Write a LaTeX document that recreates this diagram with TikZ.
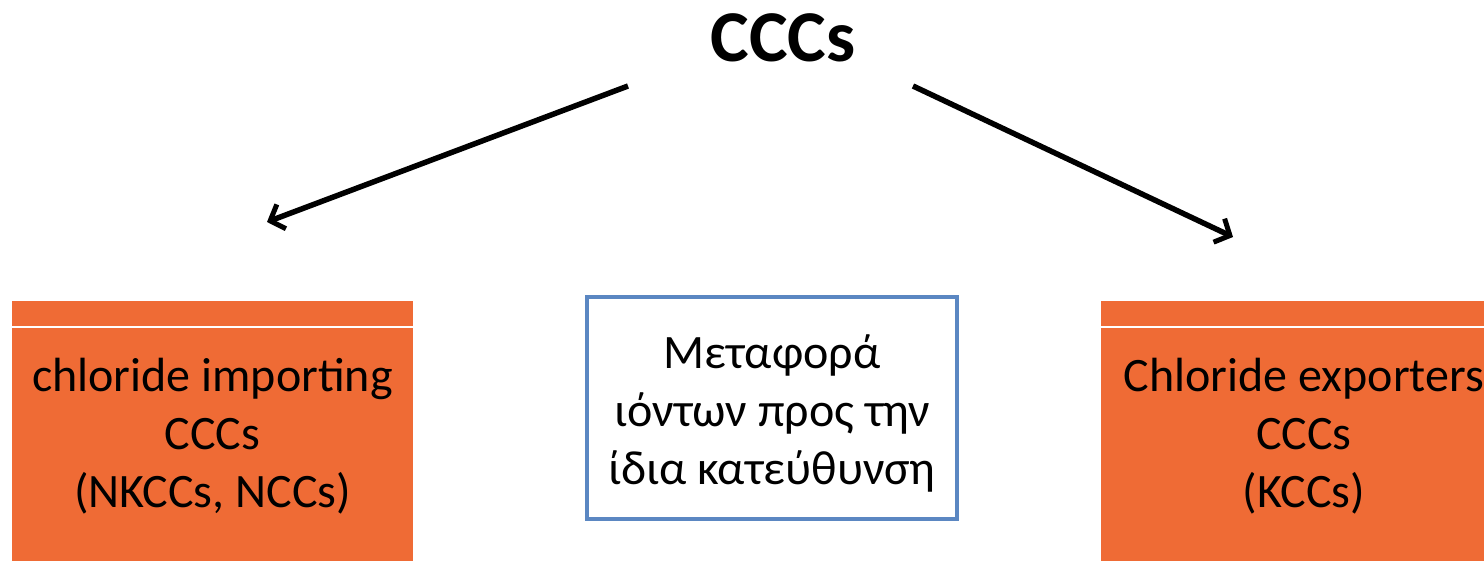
\documentclass[tikz,border=0pt]{standalone}
\usepackage{fontspec}
\setmainfont{Carlito}
\usetikzlibrary{arrows.meta}
\definecolor{orangebox}{HTML}{EF6B35}
\definecolor{bluebox}{HTML}{5B87C2}
\tikzset{
  obox/.style={fill=orangebox, draw=none, inner sep=0pt},
  txt/.style={font=\fontsize{48}{58}\selectfont, align=center, text=black},
  conn/.style={line width=5.5pt, -{Straight Barb[length=12pt,width=26pt,line width=5pt]}},
}
\begin{document}
\begin{tikzpicture}[x=1pt,y=-1pt]
\useasboundingbox (0,0) rectangle (1484,561);
\clip (0,0) rectangle (1484,561);
% title
\node[font=\fontsize{73}{80}\selectfont\bfseries] (title) at (783,38) {CCCs};
% left box
\fill[orangebox] (12,301) rectangle (413,561);
\draw[white, line width=1.5pt] (12,327) -- (413,327);
\node[txt] (left) at (212.5,436) {chloride importing\\CCCs\\(NKCCs, NCCs)};
% right box
\fill[orangebox] (1101,301) rectangle (1510,561);
\draw[white, line width=1.5pt] (1101,327) -- (1510,327);
\node[txt] (right) at (1304,436) {Chloride exporters\\CCCs\\(KCCs)};
% middle box
\node[draw=bluebox, line width=4pt, minimum width=370pt, minimum height=222pt, inner sep=0pt] (mid) at (772,408) {};
\node[txt] (midtext) at (772,413) {Μεταφορά\\ιόντων προς την\\ίδια κατεύθυνση};
% connectors
\coordinate (ls) at (628,86);
\coordinate (le) at (267,222);
\coordinate (rs) at (913,86);
\coordinate (re) at (1233,237);
\draw[conn] (ls) -- (le);
\draw[conn] (rs) -- (re);
\end{tikzpicture}
\end{document}
